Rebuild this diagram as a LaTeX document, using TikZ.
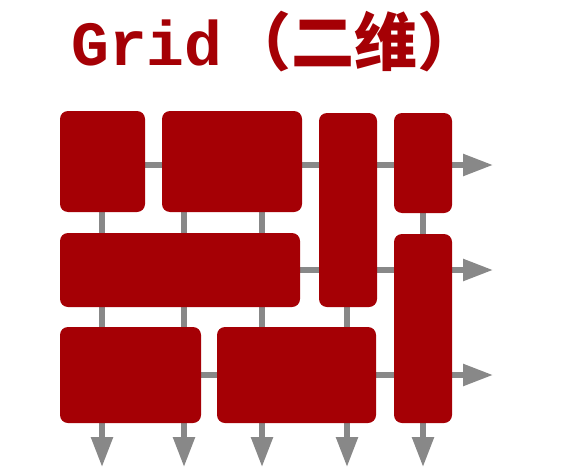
\documentclass[tikz,border=0pt]{standalone}
\usepackage{fontspec}
\usepackage{tikz}
\usetikzlibrary{arrows.meta}
\newfontfamily\gridfont{Liberation Mono}
\newfontfamily\cjk{Noto Sans CJK SC}
\definecolor{gridred}{RGB}{165, 0, 5}
\definecolor{linkgray}{RGB}{136, 136, 136}
\pgfdeclarelayer{background}
\pgfsetlayers{background,main}

\begin{document}
\begin{tikzpicture}[
    x=1pt, y=-1pt,
    cell/.style={rectangle, fill=gridred, rounded corners=8pt, inner sep=0pt},
    link/.style={draw=linkgray, line width=5.5pt},
    arrow/.style={link, -{Triangle[length=30pt, width=21pt]}}
]
\useasboundingbox (0,0) rectangle (588,468);

% Title
\node[text=gridred, font=\fontsize{63}{70}\selectfont\bfseries] (title) at (276,42)
    {\gridfont Grid\hspace{6pt}\cjk （二维）};

% Nodes
\node[cell, minimum width=85pt, minimum height=101pt] (A) at (102.5,161.5) {};
\node[cell, minimum width=140pt, minimum height=101pt] (B) at (232,161.5) {};
\node[cell, minimum width=58pt, minimum height=194pt] (C) at (348,210) {};
\node[cell, minimum width=58pt, minimum height=100pt] (D) at (423,163) {};
\node[cell, minimum width=240pt, minimum height=74pt] (E) at (180,270) {};
\node[cell, minimum width=58pt, minimum height=189pt] (F) at (423,328.5) {};
\node[cell, minimum width=141pt, minimum height=96pt] (G) at (130.5,375) {};
\node[cell, minimum width=159pt, minimum height=96pt] (H) at (296.5,375) {};

% Arrow ends
\coordinate (row1) at (493,165);
\coordinate (row2) at (493,270);
\coordinate (row3) at (493,375);
\coordinate (col1) at (102,467);
\coordinate (col2) at (184,467);
\coordinate (col3) at (262,467);
\coordinate (col4) at (347,467);
\coordinate (col5) at (423,467);

% Arrows
\begin{pgfonlayer}{background}
\draw[arrow] (A.center |- row1) -- (row1);
\draw[arrow] (E.center |- row2) -- (row2);
\draw[arrow] (G.center |- row3) -- (row3);
\draw[arrow] (A.center -| col1) -- (col1);
\draw[arrow] (B.center -| col2) -- (col2);
\draw[arrow] (B.center -| col3) -- (col3);
\draw[arrow] (C.center -| col4) -- (col4);
\draw[arrow] (D.center -| col5) -- (col5);
\end{pgfonlayer}

\end{tikzpicture}
\end{document}
